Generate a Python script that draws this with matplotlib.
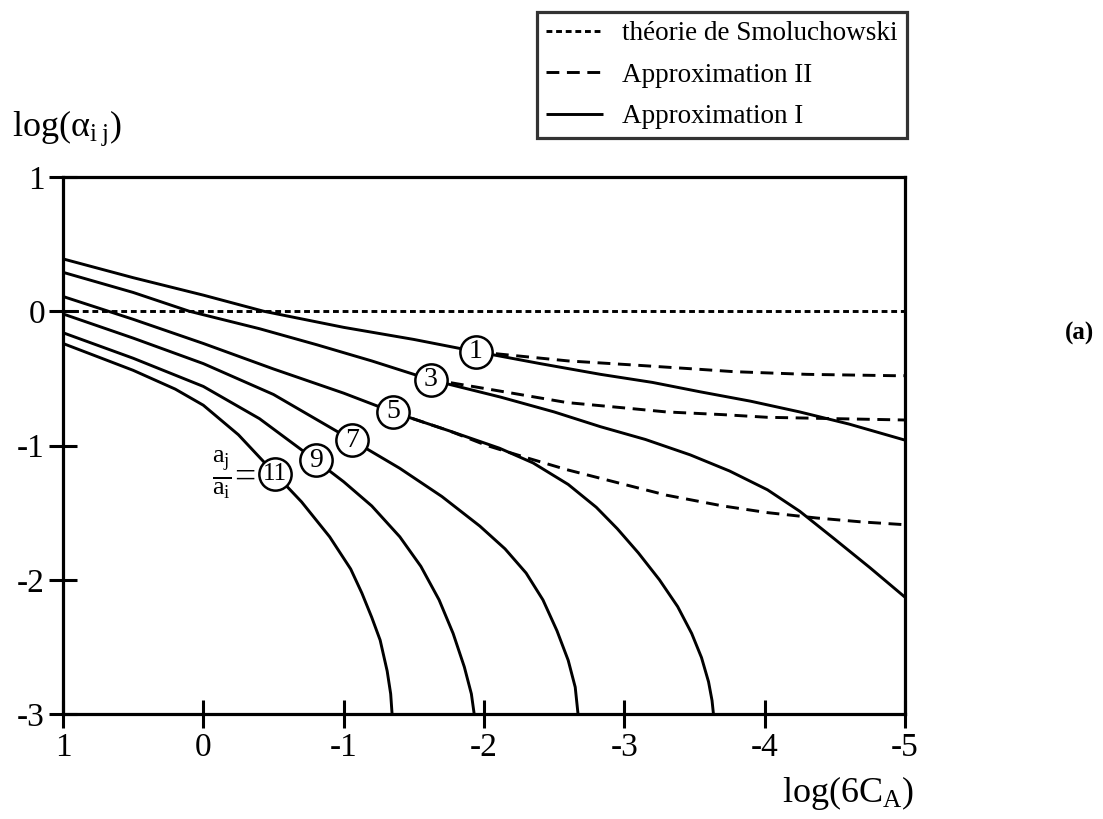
import matplotlib
matplotlib.use("Agg")
import matplotlib.pyplot as plt

plt.rcParams['font.family'] = ['Liberation Serif', 'DejaVu Serif']
plt.rcParams['mathtext.fontset'] = 'custom'
plt.rcParams['mathtext.rm'] = 'Liberation Serif'
plt.rcParams['mathtext.it'] = 'Liberation Serif:italic'

# Smoluchowski theory (reference line)
smol_x = [1, -5]
smol_y = [0, 0]

# Approximation I (solid), one curve per ratio a_j/a_i
c1_x = [1, 0.5, 0, -0.43, -1.0, -1.5, -1.94, -2.4, -2.83, -3.2, -3.54, -3.9, -4.25, -4.6, -5]
c1_y = [0.39, 0.25, 0.12, 0.0, -0.12, -0.21, -0.30, -0.39, -0.47, -0.53, -0.60, -0.67, -0.75, -0.84, -0.96]

c3_x = [1, 0.5, 0.1, -0.4, -0.81, -1.2, -1.62, -2.12, -2.5, -2.83, -3.15, -3.47, -3.75, -4.02, -4.25, -4.49, -4.75, -5]
c3_y = [0.29, 0.14, 0.0, -0.13, -0.25, -0.37, -0.51, -0.64, -0.75, -0.86, -0.955, -1.07, -1.19, -1.33, -1.49, -1.69, -1.91, -2.13]

c5_x = [1, 0.5, 0, -0.5, -1.0, -1.35, -1.75, -2.11, -2.35, -2.6, -2.8, -2.95, -3.1, -3.25,
        -3.38, -3.48, -3.55, -3.6, -3.625, -3.635]
c5_y = [0.11, -0.06, -0.24, -0.43, -0.61, -0.75, -0.89, -1.02, -1.13, -1.29, -1.46, -1.62, -1.80, -2.00,
        -2.20, -2.40, -2.58, -2.76, -2.90, -3.0]

c7_x = [1, 0.5, 0, -0.5, -1.06, -1.4, -1.7, -1.97, -2.15, -2.30, -2.42, -2.52, -2.60, -2.65, -2.67]
c7_y = [-0.02, -0.20, -0.39, -0.62, -0.96, -1.17, -1.38, -1.60, -1.77, -1.95, -2.15, -2.38, -2.60, -2.80, -3.0]

c9_x = [1, 0.5, 0, -0.4, -0.80, -1.0, -1.2, -1.4, -1.55, -1.68, -1.78, -1.86, -1.91, -1.93]
c9_y = [-0.16, -0.35, -0.56, -0.80, -1.11, -1.27, -1.45, -1.68, -1.90, -2.15, -2.40, -2.65, -2.85, -3.0]

c11_x = [1, 0.5, 0.2, 0, -0.25, -0.51, -0.7, -0.9, -1.05, -1.13, -1.2, -1.26, -1.31, -1.335, -1.345]
c11_y = [-0.24, -0.44, -0.58, -0.70, -0.92, -1.21, -1.42, -1.68, -1.92, -2.10, -2.28, -2.45, -2.68, -2.85, -3.0]

# Approximation II (dashed), branches off curves 1, 3 and 5
d1_x = [-1.94, -2.12, -2.6, -3.06, -3.5, -3.78, -4.3, -4.92, -5]
d1_y = [-0.30, -0.32, -0.37, -0.40, -0.43, -0.45, -0.47, -0.48, -0.48]

d3_x = [-1.62, -1.75, -2.2, -2.59, -3.0, -3.30, -3.7, -4.02, -4.5, -5]
d3_y = [-0.51, -0.53, -0.61, -0.68, -0.72, -0.75, -0.77, -0.79, -0.80, -0.81]

d5_x = [-1.35, -1.75, -2.02, -2.3, -2.59, -3.0, -3.30, -3.7, -4.02, -4.37, -4.7, -5]
d5_y = [-0.75, -0.89, -1.0, -1.09, -1.18, -1.29, -1.37, -1.45, -1.50, -1.54, -1.57, -1.59]

# circled ratio labels
ratios = ['1', '3', '5', '7', '9', '11']
lab_x = [-1.94, -1.62, -1.35, -1.06, -0.80, -0.51]
lab_y = [-0.30, -0.51, -0.75, -0.96, -1.11, -1.21]

xticks = [1, 0, -1, -2, -3, -4, -5]
yticks = [1, 0, -1, -2, -3]

fig = plt.figure(figsize=(11.03, 8.19), dpi=100)
ax = fig.add_axes([63 / 1103, 1 - 714 / 819, (905 - 63) / 1103, (714 - 177) / 819])

lw = 2.1
smol, = ax.plot(smol_x, smol_y, color='black', lw=lw, dashes=(2.0, 1.3),
                label='théorie de Smoluchowski')
solid = None
for xs, ys in [(c1_x, c1_y), (c3_x, c3_y), (c5_x, c5_y), (c7_x, c7_y), (c9_x, c9_y), (c11_x, c11_y)]:
    line, = ax.plot(xs, ys, color='black', lw=lw, solid_capstyle='butt', solid_joinstyle='round')
    if solid is None:
        solid = line
dashed = None
for xs, ys in [(d1_x, d1_y), (d3_x, d3_y), (d5_x, d5_y)]:
    line, = ax.plot(xs, ys, color='black', lw=lw, dashes=(4.4, 2.6))
    if dashed is None:
        dashed = line

ax.scatter(lab_x, lab_y, s=540, facecolor='white', edgecolor='black', linewidths=1.8, zorder=5)
for t, x, y in zip(ratios, lab_x, lab_y):
    ax.text(x, y, t, ha='center', va='center', fontsize=18 if len(t) > 1 else 20, zorder=6)
ax.text(-0.37, lab_y[-1] - 0.01, r'$\frac{\mathrm{a}_\mathrm{j}}{\mathrm{a}_\mathrm{i}}$=',
        ha='right', va='center', fontsize=27, zorder=6)

ax.set_xlim(1, -5)
ax.set_ylim(-3, 1)
ax.set_xticks(xticks)
ax.set_xticklabels([str(v) for v in xticks])
ax.set_yticks(yticks)
ax.set_yticklabels([str(v) for v in yticks])
ax.tick_params(direction='inout', length=20, width=2.2, labelsize=24, pad=3)
for s in ax.spines.values():
    s.set_linewidth(2.3)

fig.text(12 / 1103, 1 - 128 / 819, r'log(α$_{\mathrm{i\;j}}$)', fontsize=26, ha='left', va='center')
fig.text(914 / 1103, 1 - 793 / 819, r'log(6C$_\mathrm{A}$)', fontsize=26, ha='right', va='center')
fig.text(1080 / 1103, 1 - 333 / 819, '(a)', fontsize=18, fontweight='bold', ha='center', va='center')

leg = fig.legend([smol, dashed, solid], ['théorie de Smoluchowski', 'Approximation II', 'Approximation I'],
                 loc='upper right', bbox_to_anchor=(907 / 1103, 1 - 12 / 819), frameon=True,
                 fancybox=False, edgecolor='black', fontsize=19.5, handlelength=2.1,
                 handletextpad=0.7, borderpad=0.35, labelspacing=0.6, borderaxespad=0)
leg.get_frame().set_linewidth(2.3)

fig.savefig('out.png', dpi=100, facecolor='white')
